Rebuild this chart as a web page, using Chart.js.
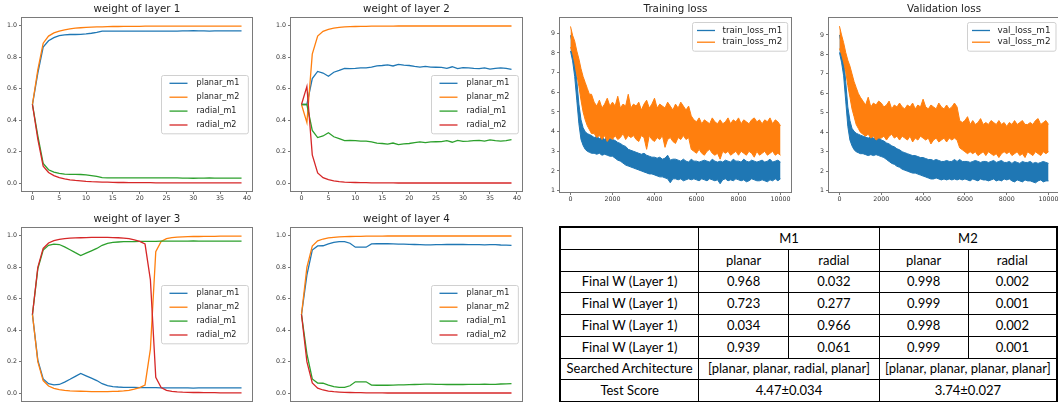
<!DOCTYPE html>
<html>
<head>
<meta charset="utf-8">
<script src="https://cdn.jsdelivr.net/npm/chart.js@4.4.1/dist/chart.umd.min.js"></script>
<style>
  html, body { margin: 0; padding: 0; background: #fff; }
  #page { position: relative; width: 1058px; height: 402px; overflow: hidden; }
  #page canvas { position: absolute; }
  #results {
    position: absolute; left: 559px; top: 226px;
    border-collapse: collapse; table-layout: fixed; border: 2px solid #000;
    font-family: Lato, "Open Sans", sans-serif; font-size: 13px; color: #000;
  }
  #results td { border: 1px solid #000; text-align: center; padding: 0; height: 20.75px; line-height: 1; white-space: nowrap; }
</style>
</head>
<body>
<div id="page">
  <canvas id="w1"></canvas>
  <canvas id="w2"></canvas>
  <canvas id="w3"></canvas>
  <canvas id="w4"></canvas>
  <canvas id="trainLoss"></canvas>
  <canvas id="valLoss"></canvas>
  <table id="results">
    <colgroup><col style="width:139px"><col style="width:90px"><col style="width:91px"><col style="width:89px"><col style="width:89px"></colgroup>
    <tbody></tbody>
  </table>
</div>
<script>
// ---- data: weights per epoch ----
const epochs = [0,1,2,3,4,5,6,7,8,9,10,11,12,13,14,15,16,17,18,19,20,21,22,23,24,25,26,27,28,29,30,31,32,33,34,35,36,37,38,39];
const epochTicks = [0,5,10,15,20,25,30,35,40];
const weightTicks = [0,0.2,0.4,0.6,0.8,1.0];
const seriesNames = ['planar_m1', 'planar_m2', 'radial_m1', 'radial_m2'];
const seriesColors = ['#1f77b4', '#ff7f0e', '#2ca02c', '#d62728'];

const l1PlanarM1 = [0.5,0.70,0.865,0.905,0.925,0.938,0.943,0.945,0.945,0.946, 0.949,0.953,0.958,0.966,0.967,0.967,0.967,0.967,0.967,0.967, 0.967,0.966,0.966,0.966,0.967,0.967,0.967,0.967,0.968,0.968, 0.969,0.968,0.968,0.967,0.968,0.968,0.968,0.968,0.968,0.968];
const l1PlanarM2 = [0.5,0.72,0.89,0.935,0.955,0.967,0.975,0.981,0.985,0.988, 0.990,0.992,0.993,0.994,0.995,0.996,0.996,0.997,0.997,0.997, 0.997,0.998,0.998,0.998,0.998,0.998,0.998,0.998,0.998,0.998, 0.998,0.998,0.998,0.998,0.998,0.998,0.998,0.998,0.998,0.998];
const l1RadialM1 = [0.5,0.30,0.125,0.085,0.07,0.062,0.057,0.056,0.056,0.055, 0.052,0.048,0.043,0.035,0.034,0.034,0.033,0.033,0.033,0.033, 0.033,0.034,0.034,0.034,0.033,0.033,0.033,0.033,0.032,0.032, 0.031,0.032,0.032,0.033,0.032,0.032,0.032,0.032,0.032,0.032];
const l1RadialM2 = [0.5,0.28,0.108,0.068,0.048,0.035,0.027,0.021,0.017,0.014, 0.011,0.009,0.008,0.007,0.006,0.005,0.004,0.004,0.003,0.003, 0.003,0.003,0.003,0.002,0.002,0.002,0.002,0.002,0.002,0.002, 0.002,0.002,0.002,0.002,0.002,0.002,0.002,0.002,0.002,0.002];

const l2PlanarM1 = [0.5,0.5,0.665,0.71,0.70,0.68,0.705,0.717,0.73,0.728, 0.73,0.733,0.733,0.737,0.745,0.748,0.752,0.745,0.755,0.75, 0.748,0.742,0.738,0.742,0.738,0.737,0.736,0.73,0.74,0.728, 0.735,0.733,0.73,0.728,0.733,0.725,0.73,0.733,0.73,0.723];
const l2PlanarM2 = [0.5,0.385,0.82,0.935,0.965,0.978,0.985,0.99,0.993,0.995, 0.996,0.997,0.997,0.998,0.998,0.998,0.998,0.998,0.999,0.999, 0.999,0.999,0.999,0.999,0.999,0.999,0.999,0.999,0.999,0.999, 0.999,0.999,0.999,0.999,0.999,0.999,0.999,0.999,0.999,0.999];
const l2RadialM1 = [0.5,0.5,0.335,0.29,0.30,0.32,0.295,0.283,0.27,0.272, 0.27,0.267,0.267,0.263,0.255,0.252,0.248,0.255,0.245,0.25, 0.252,0.258,0.262,0.258,0.262,0.263,0.264,0.27,0.26,0.272, 0.265,0.267,0.27,0.272,0.267,0.275,0.27,0.267,0.27,0.277];
const l2RadialM2 = [0.5,0.615,0.18,0.065,0.035,0.022,0.015,0.01,0.007,0.005, 0.004,0.003,0.003,0.002,0.002,0.002,0.002,0.002,0.001,0.001, 0.001,0.001,0.001,0.001,0.001,0.001,0.001,0.001,0.001,0.001, 0.001,0.001,0.001,0.001,0.001,0.001,0.001,0.001,0.001,0.001];

const l3PlanarM1 = [0.5,0.21,0.09,0.06,0.052,0.055,0.07,0.088,0.107,0.125, 0.11,0.095,0.08,0.06,0.048,0.042,0.039,0.037,0.036,0.036, 0.035,0.035,0.035,0.035,0.034,0.034,0.034,0.034,0.033,0.033, 0.032,0.033,0.034,0.034,0.034,0.034,0.034,0.034,0.034,0.034];
const l3PlanarM2 = [0.5,0.2,0.08,0.045,0.03,0.023,0.018,0.015,0.013,0.012, 0.011,0.01,0.01,0.01,0.01,0.011,0.012,0.014,0.018,0.025, 0.035,0.052,0.28,0.9,0.965,0.982,0.989,0.992,0.994,0.995, 0.996,0.996,0.997,0.997,0.997,0.998,0.998,0.998,0.998,0.998];
const l3RadialM1 = [0.5,0.79,0.91,0.94,0.948,0.945,0.93,0.912,0.893,0.875, 0.89,0.905,0.92,0.94,0.952,0.958,0.961,0.963,0.964,0.964, 0.965,0.965,0.965,0.965,0.966,0.966,0.966,0.966,0.967,0.967, 0.968,0.967,0.966,0.966,0.966,0.966,0.966,0.966,0.966,0.966];
const l3RadialM2 = [0.5,0.8,0.92,0.955,0.97,0.977,0.982,0.985,0.987,0.988, 0.989,0.99,0.99,0.99,0.99,0.989,0.988,0.986,0.982,0.975, 0.965,0.948,0.72,0.1,0.035,0.018,0.011,0.008,0.006,0.005, 0.004,0.004,0.003,0.003,0.003,0.002,0.002,0.002,0.002,0.002];

const l4PlanarM1 = [0.5,0.75,0.91,0.936,0.937,0.949,0.958,0.964,0.964,0.953, 0.928,0.929,0.928,0.949,0.95,0.95,0.95,0.949,0.948,0.947, 0.946,0.945,0.944,0.943,0.943,0.944,0.944,0.945,0.945,0.945, 0.945,0.944,0.944,0.944,0.943,0.944,0.944,0.942,0.941,0.939];
const l4PlanarM2 = [0.5,0.8,0.935,0.968,0.98,0.987,0.991,0.993,0.995,0.996, 0.997,0.997,0.998,0.998,0.998,0.998,0.999,0.999,0.999,0.999, 0.999,0.999,0.999,0.999,0.999,0.999,0.999,0.999,0.999,0.999, 0.999,0.999,0.999,0.999,0.999,0.999,0.999,0.999,0.999,0.999];
const l4RadialM1 = [0.5,0.25,0.09,0.064,0.063,0.051,0.042,0.036,0.036,0.047, 0.072,0.071,0.072,0.051,0.05,0.05,0.05,0.051,0.052,0.053, 0.054,0.055,0.056,0.057,0.057,0.056,0.056,0.055,0.055,0.055, 0.055,0.056,0.056,0.056,0.057,0.056,0.056,0.058,0.059,0.061];
const l4RadialM2 = [0.5,0.2,0.065,0.032,0.02,0.013,0.009,0.007,0.005,0.004, 0.003,0.003,0.002,0.002,0.002,0.002,0.001,0.001,0.001,0.001, 0.001,0.001,0.001,0.001,0.001,0.001,0.001,0.001,0.001,0.001, 0.001,0.001,0.001,0.001,0.001,0.001,0.001,0.001,0.001,0.001];

// ---- data: losses (upper / lower edge of the noisy band) ----
const lossSteps = [0,100,200,300,400,500,600,700,800,900,1000,
  1125,1250,1375,1500,1625,1750,1875,2000,
  2125,2250,2375,2500,2625,2750,2875,3000,
  3125,3250,3375,3500,3625,3750,3875,4000,
  4125,4250,4375,4500,4625,4750,4875,5000,
  5125,5250,5375,5500,5625,5750,5875,6000,
  6125,6250,6375,6500,6625,6750,6875,7000,
  7125,7250,7375,7500,7625,7750,7875,8000,
  8125,8250,8375,8500,8625,8750,8875,9000,
  9125,9250,9375,9500,9625,9750,9875,10000];
const lossXTicks = [0,2000,4000,6000,8000,10000];
const lossYTicks = [1,2,3,4,5,6,7,8,9];
const trainNames = ['train_loss_m1', 'train_loss_m2'];
const valNames = ['val_loss_m1', 'val_loss_m2'];

const trainM1Hi = [8.9,8.4,7.7,6.6,5.4,4.6,4.2,4.0,3.9,3.85,3.8,
  3.7,3.75,3.65,3.7,3.6,3.8,3.65,3.6,
  3.55,3.45,3.4,3.3,3.25,3.1,3.05,3.0,
  2.95,2.9,2.85,2.9,2.8,2.75,2.7,2.7,
  2.65,2.7,2.6,2.65,2.8,2.55,2.6,2.6,
  2.55,2.5,2.6,2.5,2.45,2.6,2.5,2.5,
  2.45,2.5,2.55,2.5,2.45,2.6,2.5,2.45,
  2.5,2.45,2.55,2.5,2.45,2.6,2.5,2.5,
  2.45,2.6,2.5,2.45,2.55,2.5,2.45,2.5,
  2.55,2.45,2.5,2.6,2.45,2.5,2.55,2.45];
const trainM1Lo = [8.1,7.6,6.8,5.6,4.4,3.6,3.3,3.1,3.0,2.95,2.9,
  2.9,2.85,2.9,2.8,2.85,2.8,2.75,2.75,
  2.65,2.55,2.5,2.4,2.3,2.25,2.2,2.15,
  2.1,2.05,2.0,1.95,1.9,1.85,1.85,1.8,
  1.75,1.7,1.7,1.65,1.6,1.4,1.6,1.6,
  1.55,1.6,1.5,1.55,1.6,1.55,1.6,1.55,
  1.5,1.6,1.55,1.5,1.6,1.55,1.5,1.55,
  1.35,1.55,1.6,1.5,1.55,1.5,1.6,1.55,
  1.5,1.55,1.45,1.5,1.6,1.55,1.5,1.5,
  1.55,1.5,1.45,1.55,1.5,1.6,1.5,1.6];
const trainM2Hi = [9.35,8.9,8.6,8.1,7.7,7.2,6.8,6.5,6.2,5.9,5.9,
  5.5,5.3,5.6,5.2,5.4,5.7,5.3,5.5,
  5.3,5.8,5.2,5.4,5.3,5.9,5.2,5.4,
  5.3,5.5,5.1,5.4,5.6,5.2,5.4,5.7,
  5.2,5.4,5.3,5.2,5.5,5.3,5.1,5.4,
  5.2,5.5,5.3,5.1,5.3,4.8,4.6,4.5,
  4.7,4.4,4.6,4.5,4.4,4.7,4.5,4.4,
  4.6,4.4,4.5,4.7,4.4,4.6,4.5,4.7,
  4.4,4.6,4.5,4.4,4.6,4.7,4.5,4.6,
  4.4,4.6,4.5,4.7,4.4,4.6,4.5,4.3];
const trainM2Lo = [8.3,8.0,7.5,6.9,6.3,5.6,5.0,4.6,4.3,4.1,3.9,
  3.9,3.7,3.8,3.6,3.8,3.5,3.7,3.6,
  3.8,3.6,3.7,3.9,3.6,3.8,3.7,3.8,
  3.6,3.5,3.8,3.7,3.1,3.8,3.6,3.5,
  3.7,3.6,3.8,3.2,3.6,3.7,3.5,3.4,
  3.7,3.6,3.8,3.6,3.7,3.1,3.0,2.9,
  3.1,2.9,2.8,3.0,3.1,2.9,2.8,2.9,
  2.6,3.0,2.9,3.0,2.8,2.9,3.0,2.8,
  3.0,2.9,2.8,3.0,2.9,2.7,3.0,2.8,
  2.9,3.0,2.8,2.9,3.0,2.8,2.9,2.8];

const valM1Hi = [9.0,8.5,7.8,6.6,5.3,4.6,4.2,4.05,3.95,3.9,3.85,
  3.8,3.75,3.7,3.75,3.7,3.65,3.75,3.6,
  3.55,3.45,3.4,3.3,3.25,3.15,3.1,3.0,
  2.95,2.9,2.85,2.8,2.8,2.75,2.7,2.7,
  2.65,2.6,2.6,2.55,2.6,2.55,2.5,2.5,
  2.55,2.5,2.5,2.6,2.5,2.6,2.5,2.5,
  2.5,2.45,2.5,2.55,2.5,2.45,2.5,2.5,
  2.45,2.5,2.55,2.45,2.5,2.55,2.45,2.45,
  2.5,2.4,2.5,2.45,2.4,2.5,2.45,2.45,
  2.5,2.4,2.45,2.4,2.45,2.5,2.45,2.4];
const valM1Lo = [8.1,7.6,6.9,5.6,4.3,3.6,3.3,3.1,3.0,2.95,2.9,
  2.9,2.85,2.8,2.85,2.8,2.85,2.8,2.75,
  2.7,2.6,2.5,2.4,2.35,2.25,2.2,2.1,
  2.05,2.0,1.95,1.9,1.9,1.85,1.8,1.75,
  1.7,1.65,1.6,1.6,1.65,1.6,1.55,1.6,
  1.55,1.6,1.55,1.6,1.55,1.6,1.55,1.6,
  1.55,1.5,1.6,1.55,1.5,1.6,1.55,1.55,
  1.5,1.55,1.6,1.5,1.55,1.5,1.6,1.55,
  1.6,1.5,1.45,1.55,1.5,1.45,1.55,1.5,
  1.5,1.45,1.4,1.5,1.55,1.45,1.5,1.5];
const valM2Hi = [9.45,9.0,8.6,8.1,7.7,7.4,7.0,6.6,6.3,6.0,5.8,
  5.6,5.4,5.8,5.3,5.5,5.4,5.6,5.5,
  5.3,5.4,5.6,5.2,5.4,5.3,5.5,5.3,
  5.2,5.4,5.3,5.5,5.2,5.4,5.3,5.7,
  5.3,5.2,5.4,5.3,5.2,5.5,5.3,5.2,
  5.4,5.2,5.3,5.5,5.3,4.6,4.5,4.6,
  4.8,4.4,4.6,4.4,4.5,4.7,4.4,4.5,
  4.4,4.6,4.5,4.4,4.6,4.4,4.5,4.3,
  4.5,4.4,4.6,4.4,4.5,4.6,4.4,4.4,
  4.5,4.4,4.6,4.7,4.4,4.5,4.6,4.4];
const valM2Lo = [8.3,8.0,7.6,7.1,6.4,5.8,5.2,4.8,4.4,4.2,4.0,
  3.9,3.8,3.9,3.7,3.8,3.6,3.7,3.7,
  3.8,3.6,3.8,3.9,3.7,3.8,3.6,3.8,
  3.7,3.6,3.8,3.5,3.7,3.6,3.8,3.7,
  3.6,3.7,3.4,3.6,3.7,3.5,3.6,3.7,
  3.5,3.7,3.6,3.7,3.6,3.2,3.1,3.0,
  2.9,3.0,2.9,3.0,2.8,2.9,3.0,2.8,
  3.0,2.9,2.8,2.9,2.7,2.9,3.0,2.9,
  3.0,2.8,2.9,3.0,2.8,2.9,2.7,3.0,
  2.9,2.8,3.0,2.9,2.8,3.0,2.9,3.0];

// ---- data: results table ----
const tableModels = ['M1', 'M2'];
const tableKinds = ['planar', 'radial'];
const finalWLabels = ['Final W (Layer 1)', 'Final W (Layer 1)', 'Final W (Layer 1)', 'Final W (Layer 1)'];
const finalWM1 = [[0.968, 0.032], [0.723, 0.277], [0.034, 0.966], [0.939, 0.061]];
const finalWM2 = [[0.998, 0.002], [0.999, 0.001], [0.998, 0.002], [0.999, 0.001]];
const searchedArch = ['[planar, planar, radial, planar]', '[planar, planar, planar, planar]'];
const testScores = ['4.47±0.034', '3.74±0.027'];

Chart.defaults.font.family = '"DejaVu Sans"';
Chart.defaults.animation = false;

// box round the plot area, like matplotlib spines
const framePlugin = {
  id: 'frame',
  afterDatasetsDraw(chart) {
    const a = chart.chartArea, ctx = chart.ctx;
    ctx.save();
    ctx.strokeStyle = '#7a7a7a';
    ctx.lineWidth = 1;
    ctx.strokeRect(Math.round(a.left) - 0.5, Math.round(a.top) - 0.5, Math.round(a.right - a.left) + 1, Math.round(a.bottom - a.top) + 1);
    ctx.restore();
  }
};

// matplotlib style legend inside the axes
const mplLegend = {
  id: 'mplLegend',
  afterDraw(chart, args, o) {
    const ctx = chart.ctx, a = chart.chartArea;
    ctx.save();
    ctx.font = o.fontSize + 'px "DejaVu Sans"';
    const tw = Math.max(...o.labels.map(t => ctx.measureText(t).width));
    const w = o.padX * 2 + o.handle + o.gap + tw;
    const h = o.padY * 2 + (o.labels.length - 1) * o.rowH;
    const x = Math.round(a.right - o.margin - w);
    const y = Math.round(o.loc === 'upper right' ? a.top + o.margin : (a.top + a.bottom) / 2 - h / 2);
    ctx.fillStyle = 'rgba(255,255,255,0.8)';
    ctx.strokeStyle = '#d0d0d0';
    ctx.lineWidth = 1;
    ctx.beginPath();
    ctx.roundRect(x + 0.5, y + 0.5, w, h, 2);
    ctx.fill();
    ctx.stroke();
    ctx.textBaseline = 'middle';
    o.labels.forEach((t, i) => {
      const cy = y + o.padY + i * o.rowH;
      ctx.strokeStyle = o.colors[i];
      ctx.lineWidth = 1.3;
      ctx.beginPath();
      ctx.moveTo(x + o.padX, cy);
      ctx.lineTo(x + o.padX + o.handle, cy);
      ctx.stroke();
      ctx.fillStyle = '#222';
      ctx.fillText(t, x + o.padX + o.handle + o.gap, cy);
    });
    ctx.restore();
  }
};

function placeCanvas(id, frame, space) {
  const c = document.getElementById(id);
  const w = frame.r - frame.l + space.l + space.r;
  const h = frame.b - frame.t + space.t + space.b;
  c.width = w; c.height = h;
  c.style.width = w + 'px'; c.style.height = h + 'px';
  c.style.left = (frame.l - space.l) + 'px';
  c.style.top = (frame.t - space.t) + 'px';
  return c;
}

function axisOptions(space, xr, yr, xTicks, yTicks, xFmt, yFmt) {
  const grid = { drawOnChartArea: false, drawTicks: true, tickLength: 3, color: '#555', lineWidth: 0.8 };
  const tickFont = { family: '"DejaVu Sans"', size: 6.3 };
  return {
    x: {
      type: 'linear', min: xr[0], max: xr[1],
      afterBuildTicks: s => { s.ticks = xTicks.map(v => ({ value: v })); },
      afterFit: s => { s.height = space.b; },
      grid: grid, border: { display: false },
      ticks: { color: '#333', font: tickFont, padding: 1, maxRotation: 0, autoSkip: false, callback: xFmt }
    },
    y: {
      type: 'linear', min: yr[0], max: yr[1],
      afterBuildTicks: s => { s.ticks = yTicks.map(v => ({ value: v })); },
      afterFit: s => { s.width = space.l; },
      grid: grid, border: { display: false },
      ticks: { color: '#333', font: tickFont, padding: 2, autoSkip: false, callback: yFmt }
    }
  };
}

function titleOptions(text) {
  return {
    display: true, text: text, color: '#222', fullSize: false,
    font: { family: '"DejaVu Sans"', size: 10.3, weight: 'normal', lineHeight: 1.2 },
    padding: { top: 3.6, bottom: 2.04 }
  };
}

function weightChart(id, title, frame, series) {
  const space = { l: 24, t: 18, r: 8, b: 12 };
  const canvas = placeCanvas(id, frame, space);
  return new Chart(canvas, {
    type: 'line',
    data: {
      datasets: series.map((vals, i) => ({
        label: seriesNames[i],
        data: vals.map((v, k) => ({ x: epochs[k], y: v })),
        borderColor: seriesColors[i],
        borderWidth: 1.3,
        pointRadius: 0,
        fill: false,
        order: series.length - 1 - i
      }))
    },
    options: {
      responsive: false,
      layout: { padding: { left: 0, top: 0, right: space.r, bottom: 0 } },
      scales: axisOptions(space, [-1.95, 40.95], [-0.05, 1.05], epochTicks, weightTicks, v => String(v), v => v.toFixed(1)),
      plugins: {
        legend: { display: false },
        tooltip: { enabled: false },
        title: titleOptions(title),
        mplLegend: { labels: seriesNames, colors: seriesColors, loc: 'center right', fontSize: 8.1, rowH: 13.9, padX: 8.5, padY: 8.3, handle: 18, gap: 9, margin: 4 }
      }
    },
    plugins: [framePlugin, mplLegend]
  });
}

function lossChart(id, title, frame, yMax, names, m1Hi, m1Lo, m2Hi, m2Lo, legendFont) {
  const space = { l: 16, t: 18, r: 14, b: 12 };
  const canvas = placeCanvas(id, frame, space);
  const pts = vals => vals.map((v, k) => ({ x: lossSteps[k], y: v }));
  const band = (vals, color, fill) => ({
    data: pts(vals), borderColor: color, backgroundColor: color,
    borderWidth: 1, pointRadius: 0, fill: fill
  });
  return new Chart(canvas, {
    type: 'line',
    data: {
      datasets: [
        band(m2Hi, seriesColors[1], '+1'),
        band(m2Lo, seriesColors[1], false),
        band(m1Hi, seriesColors[0], '+1'),
        band(m1Lo, seriesColors[0], false)
      ]
    },
    options: {
      responsive: false,
      layout: { padding: { left: 0, top: 0, right: space.r, bottom: 0 } },
      scales: axisOptions(space, [-500, 10500], [0.93, yMax], lossXTicks, lossYTicks, v => String(v), v => String(v)),
      plugins: {
        legend: { display: false },
        tooltip: { enabled: false },
        title: titleOptions(title),
        mplLegend: { labels: names, colors: [seriesColors[0], seriesColors[1]], loc: 'upper right', fontSize: legendFont, rowH: 11.7, padX: 5, padY: 8.5, handle: 18, gap: 7.5, margin: 4 }
      }
    },
    plugins: [framePlugin, mplLegend]
  });
}

weightChart('w1', 'weight of layer 1', { l: 22, t: 18, r: 252, b: 191 }, [l1PlanarM1, l1PlanarM2, l1RadialM1, l1RadialM2]);
weightChart('w2', 'weight of layer 2', { l: 291, t: 18, r: 522, b: 191 }, [l2PlanarM1, l2PlanarM2, l2RadialM1, l2RadialM2]);
weightChart('w3', 'weight of layer 3', { l: 22, t: 228, r: 252, b: 401 }, [l3PlanarM1, l3PlanarM2, l3RadialM1, l3RadialM2]);
weightChart('w4', 'weight of layer 4', { l: 291, t: 228, r: 522, b: 401 }, [l4PlanarM1, l4PlanarM2, l4RadialM1, l4RadialM2]);
lossChart('trainLoss', 'Training loss', { l: 560, t: 18, r: 791, b: 192 }, 9.78, trainNames, trainM1Hi, trainM1Lo, trainM2Hi, trainM2Lo, 8.7);
lossChart('valLoss', 'Validation loss', { l: 829, t: 18, r: 1059, b: 192 }, 9.87, valNames, valM1Hi, valM1Lo, valM2Hi, valM2Lo, 8.8);

// ---- results table ----
const tbody = document.querySelector('#results tbody');
function addRow(cells) {
  const tr = document.createElement('tr');
  cells.forEach(c => {
    const td = document.createElement('td');
    td.textContent = c.text;
    if (c.span) td.colSpan = c.span;
    tr.appendChild(td);
  });
  tbody.appendChild(tr);
}
addRow([{ text: '' }].concat(tableModels.map(m => ({ text: m, span: 2 }))));
addRow([{ text: '' }].concat(tableModels.flatMap(() => tableKinds.map(k => ({ text: k })))));
finalWLabels.forEach((label, i) => {
  addRow([{ text: label }].concat([finalWM1[i], finalWM2[i]].flatMap(r => r.map(v => ({ text: v.toFixed(3) })))));
});
addRow([{ text: 'Searched Architecture' }].concat(searchedArch.map(s => ({ text: s, span: 2 }))));
addRow([{ text: 'Test Score' }].concat(testScores.map(s => ({ text: s, span: 2 }))));
</script>
</body>
</html>
